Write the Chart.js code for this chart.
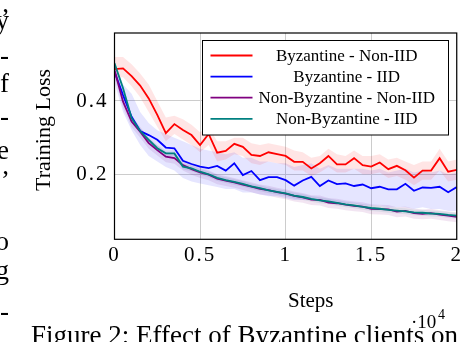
<!DOCTYPE html>
<html>
<head>
<meta charset="utf-8">
<script src="https://cdn.jsdelivr.net/npm/chart.js@4/dist/chart.umd.min.js"></script>
<style>
  html, body { margin: 0; padding: 0; background: #fff; }
</style>
</head>
<body>
<canvas id="loss-chart" width="466" height="342"></canvas>
<script>
var steps = [0, 500, 1000, 1500, 2000, 2500, 3000, 3500, 4000, 4500,
    5000, 5500, 6000, 6500, 7000, 7500, 8000, 8500, 9000, 9500,
    10000, 10500, 11000, 11500, 12000, 12500, 13000, 13500, 14000, 14500,
    15000, 15500, 16000, 16500, 17000, 17500, 18000, 18500, 19000, 19500, 20000];

var seriesNames = ['Byzantine - Non-IID', 'Byzantine - IID', 'Non-Byzantine - Non-IID', 'Non-Byzantine - IID'];

var byzNonIid = [0.487, 0.489, 0.468, 0.442, 0.407, 0.362, 0.312, 0.337, 0.321, 0.307,
    0.280, 0.310, 0.259, 0.264, 0.283, 0.275, 0.253, 0.250, 0.260, 0.255,
    0.250, 0.234, 0.234, 0.216, 0.230, 0.250, 0.227, 0.227, 0.244, 0.225,
    0.221, 0.232, 0.214, 0.223, 0.211, 0.191, 0.210, 0.210, 0.244, 0.207, 0.212];
var byzNonIidHigh = [0.520, 0.520, 0.500, 0.475, 0.445, 0.400, 0.355, 0.360, 0.350, 0.335,
    0.315, 0.330, 0.290, 0.290, 0.300, 0.300, 0.285, 0.280, 0.285, 0.280,
    0.275, 0.265, 0.260, 0.245, 0.250, 0.270, 0.255, 0.250, 0.265, 0.250,
    0.250, 0.255, 0.240, 0.245, 0.235, 0.225, 0.235, 0.235, 0.270, 0.235, 0.240];
var byzNonIidLow = [0.465, 0.465, 0.440, 0.410, 0.370, 0.330, 0.290, 0.310, 0.295, 0.280,
    0.260, 0.280, 0.235, 0.240, 0.255, 0.250, 0.230, 0.225, 0.235, 0.230,
    0.225, 0.210, 0.210, 0.195, 0.205, 0.220, 0.205, 0.205, 0.215, 0.200,
    0.200, 0.205, 0.190, 0.195, 0.185, 0.170, 0.185, 0.185, 0.210, 0.180, 0.185];

var byzIid = [0.480, 0.416, 0.357, 0.318, 0.307, 0.294, 0.273, 0.271, 0.237, 0.228,
    0.221, 0.217, 0.223, 0.210, 0.230, 0.198, 0.209, 0.184, 0.192, 0.192,
    0.184, 0.169, 0.183, 0.193, 0.168, 0.183, 0.173, 0.175, 0.168, 0.172,
    0.162, 0.166, 0.159, 0.159, 0.174, 0.155, 0.164, 0.163, 0.166, 0.151, 0.165];
var byzIidHigh = [0.500, 0.445, 0.420, 0.370, 0.340, 0.320, 0.310, 0.300, 0.290, 0.280,
    0.270, 0.265, 0.260, 0.255, 0.260, 0.245, 0.245, 0.235, 0.235, 0.230,
    0.230, 0.220, 0.225, 0.230, 0.215, 0.225, 0.215, 0.215, 0.215, 0.215,
    0.210, 0.215, 0.205, 0.210, 0.215, 0.205, 0.210, 0.205, 0.210, 0.200, 0.205];
var byzIidLow = [0.450, 0.370, 0.320, 0.280, 0.250, 0.235, 0.220, 0.210, 0.190, 0.180,
    0.175, 0.170, 0.165, 0.160, 0.160, 0.150, 0.150, 0.145, 0.140, 0.140,
    0.135, 0.130, 0.130, 0.130, 0.125, 0.125, 0.120, 0.120, 0.120, 0.115,
    0.115, 0.115, 0.110, 0.110, 0.110, 0.105, 0.110, 0.105, 0.105, 0.100, 0.100];

var honestNonIid = [0.484, 0.398, 0.344, 0.316, 0.285, 0.266, 0.248, 0.244, 0.225, 0.214,
    0.205, 0.199, 0.188, 0.183, 0.178, 0.172, 0.166, 0.160, 0.157, 0.151,
    0.147, 0.141, 0.137, 0.131, 0.130, 0.123, 0.121, 0.117, 0.114, 0.112,
    0.106, 0.105, 0.104, 0.098, 0.100, 0.094, 0.092, 0.094, 0.090, 0.087, 0.084];
var honestNonIidHigh = [0.500, 0.415, 0.358, 0.330, 0.298, 0.279, 0.261, 0.257, 0.238, 0.227,
    0.218, 0.211, 0.200, 0.195, 0.190, 0.184, 0.178, 0.172, 0.169, 0.163,
    0.159, 0.153, 0.149, 0.143, 0.142, 0.135, 0.133, 0.129, 0.126, 0.124,
    0.118, 0.117, 0.116, 0.110, 0.112, 0.106, 0.104, 0.106, 0.102, 0.099, 0.096];
var honestNonIidLow = [0.465, 0.380, 0.328, 0.300, 0.270, 0.251, 0.233, 0.229, 0.210, 0.199,
    0.190, 0.184, 0.173, 0.168, 0.163, 0.157, 0.151, 0.145, 0.142, 0.136,
    0.132, 0.126, 0.122, 0.116, 0.115, 0.108, 0.106, 0.102, 0.099, 0.097,
    0.091, 0.090, 0.089, 0.083, 0.085, 0.079, 0.077, 0.079, 0.075, 0.072, 0.069];

var honestIid = [0.503, 0.435, 0.353, 0.318, 0.294, 0.271, 0.257, 0.257, 0.221, 0.216,
    0.207, 0.200, 0.190, 0.184, 0.179, 0.174, 0.167, 0.162, 0.156, 0.152,
    0.148, 0.142, 0.138, 0.133, 0.129, 0.126, 0.122, 0.118, 0.115, 0.111,
    0.108, 0.106, 0.103, 0.101, 0.099, 0.096, 0.095, 0.093, 0.092, 0.089, 0.087];
var honestIidHigh = [0.512, 0.444, 0.362, 0.326, 0.302, 0.279, 0.265, 0.265, 0.229, 0.224,
    0.215, 0.208, 0.198, 0.192, 0.187, 0.182, 0.175, 0.170, 0.164, 0.160,
    0.156, 0.150, 0.146, 0.141, 0.137, 0.134, 0.130, 0.126, 0.123, 0.119,
    0.116, 0.114, 0.111, 0.109, 0.107, 0.104, 0.103, 0.101, 0.100, 0.097, 0.095];
var honestIidLow = [0.494, 0.426, 0.344, 0.310, 0.286, 0.263, 0.249, 0.249, 0.213, 0.208,
    0.199, 0.192, 0.182, 0.176, 0.171, 0.166, 0.159, 0.154, 0.148, 0.144,
    0.140, 0.134, 0.130, 0.125, 0.121, 0.118, 0.114, 0.110, 0.107, 0.103,
    0.100, 0.098, 0.095, 0.093, 0.091, 0.088, 0.087, 0.085, 0.084, 0.081, 0.079];

var xTicks = [0, 5000, 10000, 15000, 20000];
var xTickLabels = ['0', '0.5', '1', '1.5', '2'];
var yTicks = [0.2, 0.4];
var yTickLabels = ['0.2', '0.4'];

var xTitle = 'Steps';
var yTitle = 'Training Loss';
var xMultiplier = ['\u00b710', '4'];
var caption = 'Figure 2: Effect of Byzantine clients on';
// end-of-line characters from the neighbouring text column
var marginText = [[',', 12], ['y', 29], ['-', 64], ['f', 92], ['-', 125], ['e', 159], [',', 174], ['o', 250], ['g', 279], ['-', 320]];

var serif = '"Liberation Serif", "DejaVu Serif", serif';

function points(values) {
    return values.map(function (v, i) { return { x: steps[i], y: v }; });
}

function band(high, low, color) {
    return [
        { data: points(high), fill: '+1', backgroundColor: color, borderWidth: 0, pointRadius: 0, order: 10 },
        { data: points(low), fill: false, borderWidth: 0, pointRadius: 0, order: 10 }
    ];
}

function line(label, values, color, order) {
    return { label: label, data: points(values), borderColor: color, backgroundColor: color,
        borderWidth: 1.8, pointRadius: 0, fill: false, order: order, isSeries: true };
}

var red = 'rgb(255, 0, 0)';
var blue = 'rgb(0, 0, 255)';
var purple = 'rgb(128, 0, 128)';
var teal = 'rgb(0, 128, 128)';

var datasets = [].concat(
    band(byzNonIidHigh, byzNonIidLow, 'rgba(255, 0, 0, 0.1)'),
    band(byzIidHigh, byzIidLow, 'rgba(0, 0, 255, 0.1)'),
    band(honestNonIidHigh, honestNonIidLow, 'rgba(128, 0, 128, 0.1)'),
    band(honestIidHigh, honestIidLow, 'rgba(0, 128, 128, 0.1)'),
    [
        line(seriesNames[0], byzNonIid, red, 4),
        line(seriesNames[1], byzIid, blue, 3),
        line(seriesNames[2], honestNonIid, purple, 2),
        line(seriesNames[3], honestIid, teal, 1)
    ]
);

var paperBits = {
    id: 'paperBits',
    beforeDraw: function (chart) {
        // the tick numbers in the paper are set a little wide
        chart.ctx.letterSpacing = '2px';
    },
    beforeDatasetsDraw: function (chart) {
        chart.ctx.letterSpacing = '0px';
    },
    afterDatasetsDraw: function (chart) {
        var ctx = chart.ctx;
        var a = chart.chartArea;
        ctx.save();
        ctx.strokeStyle = '#000';
        ctx.lineWidth = 1.2;
        ctx.strokeRect(a.left, a.top, a.right - a.left, a.bottom - a.top);

        // legend box, top right inside the axes
        ctx.fillStyle = '#fff';
        ctx.fillRect(202.5, 40.5, 246, 94.5);
        ctx.lineWidth = 1;
        ctx.strokeRect(202.5, 40.5, 246, 94.5);
        ctx.font = '17px ' + serif;
        ctx.textAlign = 'center';
        ctx.textBaseline = 'middle';
        var row = 0;
        chart.data.datasets.forEach(function (ds) {
            if (!ds.isSeries) return;
            var y = 55.5 + row * 21.1;
            ctx.strokeStyle = ds.borderColor;
            ctx.lineWidth = 1.8;
            ctx.beginPath();
            ctx.moveTo(210.5, y);
            ctx.lineTo(252.5, y);
            ctx.stroke();
            ctx.fillStyle = '#000';
            ctx.fillText(ds.label, 346.7, y + 1);
            row++;
        });
        ctx.restore();
    },
    afterDraw: function (chart) {
        var ctx = chart.ctx;
        ctx.save();
        ctx.letterSpacing = '0px';
        ctx.fillStyle = '#000';
        ctx.textBaseline = 'alphabetic';

        ctx.font = '21px ' + serif;
        ctx.textAlign = 'left';
        ctx.fillText(xTitle, 288, 307);

        ctx.save();
        ctx.translate(49.5, 130);
        ctx.rotate(-Math.PI / 2);
        ctx.textAlign = 'center';
        ctx.font = '22px ' + serif;
        ctx.fillText(yTitle, 0, 0);
        ctx.restore();

        ctx.font = '19px ' + serif;
        ctx.fillText(xMultiplier[0], 411, 328);
        ctx.font = '14px ' + serif;
        ctx.fillText(xMultiplier[1], 438, 319);

        ctx.font = '27px ' + serif;
        ctx.fillText(caption, 31, 344);

        ctx.textAlign = 'right';
        marginText.forEach(function (m) {
            ctx.fillText(m[0], 9, m[1]);
        });
        ctx.restore();
    }
};

new Chart(document.getElementById('loss-chart'), {
    type: 'line',
    data: { datasets: datasets },
    plugins: [paperBits],
    options: {
        responsive: false,
        animation: false,
        devicePixelRatio: 1,
        layout: { padding: { left: 0, top: 33, right: 7, bottom: 0 } },
        plugins: { legend: { display: false }, tooltip: { enabled: false } },
        elements: { line: { tension: 0 } },
        scales: {
            x: {
                type: 'linear',
                min: 0,
                max: 20000,
                afterBuildTicks: function (scale) {
                    scale.ticks = xTicks.map(function (v) { return { value: v }; });
                },
                afterFit: function (scale) { scale.height = 102.7; },
                grid: { color: '#cccccc', lineWidth: 1, drawTicks: false },
                border: { display: false },
                ticks: {
                    padding: 4,
                    color: '#000',
                    maxRotation: 0,
                    autoSkip: false,
                    font: { family: serif, size: 21 },
                    callback: function (value, i) { return xTickLabels[i]; }
                }
            },
            y: {
                min: 0.0226,
                max: 0.5855,
                afterBuildTicks: function (scale) {
                    scale.ticks = yTicks.map(function (v) { return { value: v }; });
                },
                afterFit: function (scale) { scale.width = 114.5; },
                grid: { color: '#cccccc', lineWidth: 1, drawTicks: false },
                border: { display: false },
                ticks: {
                    padding: 6,
                    color: '#000',
                    font: { family: serif, size: 21 },
                    callback: function (value, i) { return yTickLabels[i]; }
                }
            }
        }
    }
});
</script>
</body>
</html>
